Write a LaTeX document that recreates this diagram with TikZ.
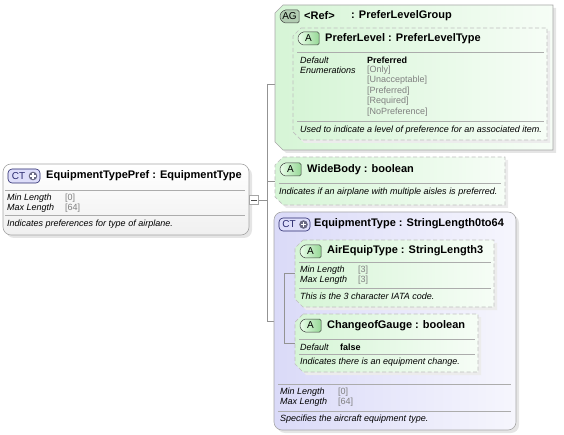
\documentclass[tikz,border=0pt]{standalone}
\usepackage{fontspec}
\setmainfont{Liberation Sans}
\usepackage{tikz}
\definecolor{grleft}{RGB}{214,245,214}
\definecolor{grright}{RGB}{246,253,246}
\definecolor{lvleft}{RGB}{218,218,248}
\definecolor{lvright}{RGB}{246,246,253}
\definecolor{tagA}{RGB}{150,215,150}
\definecolor{tagAG}{RGB}{178,204,178}
\definecolor{tagCT}{RGB}{222,222,250}
\definecolor{navy}{RGB}{40,40,110}
\definecolor{plus}{RGB}{105,105,130}

\begin{document}
\begin{tikzpicture}[x=1pt, y=-1pt,
    frame/.style={draw=gray!70, line width=0.6pt},
    dframe/.style={draw=gray!50, line width=0.7pt, dash pattern=on 4pt off 2.5pt},
    shade/.style={fill=gray!20, draw=none},
    sep/.style={draw=gray!65, line width=0.5pt},
    link/.style={draw=gray!85, line width=0.5pt},
    greenbox/.style={left color=grleft, right color=grright},
    lavbox/.style={left color=lvleft, right color=lvright},
    tagbox/.style={draw=gray!50!black, line width=0.5pt, rounded corners=1.5pt},
    tagtxt/.style={inner sep=0pt, font=\fontsize{10}{11}\selectfont},
    ttl/.style={anchor=west, inner sep=0pt, font=\fontsize{11}{13}\selectfont\bfseries},
    lbl/.style={anchor=west, inner sep=0pt, font=\fontsize{9}{10}\selectfont\itshape},
    val/.style={anchor=west, inner sep=0pt, text=gray, font=\fontsize{9}{10}\selectfont},
    fix/.style={anchor=west, inner sep=0pt, font=\fontsize{9}{10}\selectfont\bfseries}
]
    \useasboundingbox (0,0) rectangle (564,435);

    % connectors
    \coordinate (hub) at (267,200);
    \coordinate (hub-top) at (267,84);
    \coordinate (hub-bot) at (267,321);
    \coordinate (ag-in) at (275,84);
    \coordinate (wide-in) at (275,181);
    \coordinate (eq-in) at (274,321);
    \draw[link] (hub-top) -- (hub-bot);
    \draw[link] (hub-top) -- (ag-in);
    \draw[link] (hub) -- (hub-top |- wide-in) -- (wide-in);
    \draw[link] (hub-bot) -- (eq-in);

    % EquipmentTypePref
    \fill[shade, rounded corners=8] (6,167) rectangle (252,238);
    \draw[frame, rounded corners=8, top color=white, bottom color=gray!12] (3,164) rectangle (249,235);
    \draw[draw=navy, line width=0.6pt, fill=tagCT, rounded corners=4] (8,169) rectangle (40,183);
    \node[tagtxt, text=navy] (pref-tag) at (18.5,176) {CT};
    \fill[plus] (33,176) circle (4.3);
    \draw[white, line width=1.4pt] (30.4,176) -- (35.6,176) (33,173.4) -- (33,178.6);
    \node[ttl] (pref-title) at (46,176) {EquipmentTypePref : EquipmentType};
    \draw[sep] (5,190) -- (245,190);
    \node[lbl] (pref-min) at (7,198) {Min Length};
    \node[val] (pref-minv) at (65,198) {[0]};
    \node[lbl] (pref-max) at (7,208) {Max Length};
    \node[val] (pref-maxv) at (65,208) {[64]};
    \draw[sep] (5,215) -- (245,215);
    \node[lbl] (pref-doc) at (7,224) {Indicates preferences for type of airplane.};

    % fold box
    \node[draw=gray!70, fill=white, minimum size=9pt, inner sep=0pt] (fold) at (254,200) {};
    \draw[gray!60!black, line width=0.5pt] ([xshift=2pt]fold.west) -- ([xshift=-2pt]fold.east);
    \draw[link] (fold.east) -- (hub);

    % PreferLevelGroup
    \fill[shade] (286,8) -- (556,8) -- (556,153) -- (286,153) -- (278,145) -- (278,16) -- cycle;
    \draw[frame, greenbox] (283,5) -- (553,5) -- (553,150) -- (283,150) -- (275,142) -- (275,13) -- cycle;
    \draw[tagbox, fill=tagAG] (284,10) -- (299,10) -- (299,23) -- (284,23) -- (280,19) -- (280,14) -- cycle;
    \node[tagtxt] (ag-tag) at (289.5,16.5) {AG};
    \node[ttl] (ag-ref) at (304,16) {<Ref>};
    \node[ttl] (ag-title) at (351,16) {: PreferLevelGroup};

    % PreferLevel
    \fill[shade, fill=gray!15] (304,31) -- (550,31) -- (550,143) -- (304,143) -- (296,135) -- (296,39) -- cycle;
    \draw[dframe, greenbox] (301,28) -- (547,28) -- (547,140) -- (301,140) -- (293,132) -- (293,36) -- cycle;
    \draw[tagbox, left color=green!8, right color=tagA] (302,32) -- (319,32) -- (319,45) -- (302,45) -- (298,41) -- (298,36) -- cycle;
    \node[tagtxt] (lvl-tag) at (308.5,38.5) {A};
    \node[ttl] (lvl-title) at (325,39) {PreferLevel : PreferLevelType};
    \draw[sep] (297,52) -- (544,52);
    \node[lbl] (lvl-def) at (300,60) {Default};
    \node[lbl] (lvl-enum) at (300,70) {Enumerations};
    \node[fix] (lvl-defv) at (367,60) {Preferred};
    \node[val] (lvl-e1) at (367,70) {[Only]};
    \node[val] (lvl-e2) at (367,80.5) {[Unacceptable]};
    \node[val] (lvl-e3) at (367,91) {[Preferred]};
    \node[val] (lvl-e4) at (367,101.5) {[Required]};
    \node[val] (lvl-e5) at (367,112) {[NoPreference]};
    \draw[sep] (297,121) -- (544,121);
    \node[lbl] (lvl-doc) at (300,130) {Used to indicate a level of preference for an associated item.};

    % WideBody
    \fill[shade, fill=gray!15] (286,160) -- (508,160) -- (508,208) -- (286,208) -- (278,200) -- (278,168) -- cycle;
    \draw[dframe, greenbox] (283,157) -- (505,157) -- (505,205) -- (283,205) -- (275,197) -- (275,165) -- cycle;
    \draw[tagbox, left color=green!8, right color=tagA] (284,163) -- (301,163) -- (301,176) -- (284,176) -- (280,172) -- (280,167) -- cycle;
    \node[tagtxt] (wide-tag) at (290.5,169.5) {A};
    \node[ttl] (wide-title) at (307,170) {WideBody : boolean};
    \draw[sep] (279,183) -- (501,183);
    \node[lbl] (wide-doc) at (279,192) {Indicates if an airplane with multiple aisles is preferred.};

    % EquipmentType
    \fill[shade, rounded corners=8] (277,215) rectangle (519,433);
    \draw[frame, lavbox, rounded corners=8] (274,212) rectangle (516,430);
    \draw[draw=navy, line width=0.6pt, fill=tagCT, rounded corners=4] (279,218) rectangle (310,231);
    \node[tagtxt, text=navy] (eq-tag) at (289,224.5) {CT};
    \fill[plus] (303.5,224.5) circle (4.3);
    \draw[white, line width=1.4pt] (300.9,224.5) -- (306.1,224.5) (303.5,221.9) -- (303.5,227.1);
    \node[ttl] (eq-title) at (314,224) {EquipmentType : StringLength0to64};

    % sequence inside EquipmentType
    \coordinate (seq-top) at (284,273);
    \coordinate (seq-bot) at (284,343);
    \coordinate (air-in) at (295,273);
    \coordinate (gauge-in) at (295,343);
    \draw[link] (air-in) -- (seq-top) -- (seq-bot) -- (gauge-in);

    % AirEquipType
    \fill[shade, fill=gray!15] (306,243) -- (497,243) -- (497,310) -- (306,310) -- (298,302) -- (298,251) -- cycle;
    \draw[dframe, greenbox] (303,240) -- (494,240) -- (494,307) -- (303,307) -- (295,299) -- (295,248) -- cycle;
    \draw[tagbox, left color=green!8, right color=tagA] (304,245) -- (321,245) -- (321,258) -- (304,258) -- (300,254) -- (300,249) -- cycle;
    \node[tagtxt] (air-tag) at (310.5,251.5) {A};
    \node[ttl] (air-title) at (327,251) {AirEquipType : StringLength3};
    \draw[sep] (299,262) -- (491,262);
    \node[lbl] (air-min) at (300,270) {Min Length};
    \node[val] (air-minv) at (358,270) {[3]};
    \node[lbl] (air-max) at (300,280) {Max Length};
    \node[val] (air-maxv) at (358,280) {[3]};
    \draw[sep] (299,288) -- (491,288);
    \node[lbl] (air-doc) at (300,296) {This is the 3 character IATA code.};

    % ChangeofGauge
    \fill[shade, fill=gray!15] (306,317) -- (481,317) -- (481,375) -- (306,375) -- (298,367) -- (298,325) -- cycle;
    \draw[dframe, greenbox] (303,314) -- (478,314) -- (478,372) -- (303,372) -- (295,364) -- (295,322) -- cycle;
    \draw[tagbox, left color=green!8, right color=tagA] (304,319) -- (321,319) -- (321,332) -- (304,332) -- (300,328) -- (300,323) -- cycle;
    \node[tagtxt] (gauge-tag) at (310.5,325.5) {A};
    \node[ttl] (gauge-title) at (327,326) {ChangeofGauge : boolean};
    \draw[sep] (299,339) -- (475,339);
    \node[lbl] (gauge-def) at (300,347) {Default};
    \node[fix] (gauge-defv) at (340,347) {false};
    \draw[sep] (299,354) -- (475,354);
    \node[lbl] (gauge-doc) at (300,362) {Indicates there is an equipment change.};

    % EquipmentType facets
    \draw[sep] (278,384) -- (511,384);
    \node[lbl] (eq-min) at (280,392) {Min Length};
    \node[val] (eq-minv) at (338,392) {[0]};
    \node[lbl] (eq-max) at (280,402) {Max Length};
    \node[val] (eq-maxv) at (338,402) {[64]};
    \draw[sep] (278,411) -- (511,411);
    \node[lbl] (eq-doc) at (280,419) {Specifies the aircraft equipment type.};
\end{tikzpicture}
\end{document}
